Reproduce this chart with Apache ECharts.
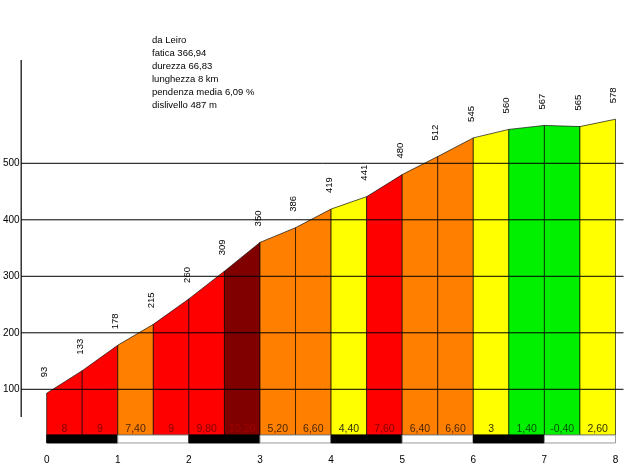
<!DOCTYPE html>
<html><head><meta charset="utf-8">
<script src="https://cdn.jsdelivr.net/npm/echarts@6/dist/echarts.min.js"></script>
<style>html,body{margin:0;padding:0;background:#fff}#c{width:640px;height:470px}</style>
</head><body><div id="c"></div>
<script>
// ---- data ----
const distances = [0, 0.5, 1, 1.5, 2, 2.5, 3, 3.5, 4, 4.5, 5, 5.5, 6, 6.5, 7, 7.5, 8];
const elevations = [93, 133, 178, 215, 260, 309, 360, 386, 419, 441, 480, 512, 545, 560, 567, 565, 578];
const elevationLabels = ['93', '133', '178', '215', '260', '309', '350', '386', '419', '441', '480', '512', '545', '560', '567', '565', '578'];
const gradientLabels = ['8', '9', '7,40', '9', '9,80', '10,20', '5,20', '6,60', '4,40', '7,60', '6,40', '6,60', '3', '1,40', '-0,40', '2,60'];
const gradientClasses = ['red', 'red', 'orange', 'red', 'red', 'darkred', 'orange', 'orange', 'yellow', 'red', 'orange', 'orange', 'yellow', 'green', 'green', 'yellow'];
const kmTicks = [0, 1, 2, 3, 4, 5, 6, 7, 8];
const elevationTicks = [100, 200, 300, 400, 500];
const infoLines = ['da Leiro', 'fatica 366,94', 'durezza 66,83', 'lunghezza 8 km', 'pendenza media 6,09 %', 'dislivello 487 m'];

// ---- styling ----
const FONT = 'Arial, "Liberation Sans", sans-serif';
const palette = {
  red: { fill: '#ff0000', text: '#800000' },
  darkred: { fill: '#800000', text: '#a00000' },
  orange: { fill: '#ff8000', text: '#4d2600' },
  yellow: { fill: '#ffff00', text: '#333300' },
  green: { fill: '#00f000', text: '#005000' }
};
const BASE = 19;        // bottom of the profile fill (elevation units)
const BAR_BOTTOM = 5;   // bottom of the km band
const GRAD_LABEL_Y = 29;
const AXIS_FROM = 51, AXIS_TO = 683;

const segData = [];
for (let i = 0; i < distances.length - 1; i++) {
  segData.push([distances[i], distances[i + 1], elevations[i], elevations[i + 1], i]);
}
const pointData = distances.map((d, i) => [d, elevations[i], i]);
const kmBandData = [];
for (let k = 0; k < kmTicks.length - 1; k++) kmBandData.push([kmTicks[k], kmTicks[k + 1], k]);

const chart = echarts.init(document.getElementById('c'), null, { renderer: 'canvas' });
chart.setOption({
  animation: false,
  backgroundColor: '#fff',
  title: {
    text: infoLines.join('\n'),
    left: 147, top: 29,
    textStyle: { fontSize: 9.5, fontWeight: 'normal', lineHeight: 12.9, color: '#000', fontFamily: FONT }
  },
  grid: { left: 44.5, right: 24.5, top: 50.3, bottom: 24.2 },
  xAxis: {
    type: 'value', min: 0, max: 8, interval: 1,
    axisLine: { show: false }, axisTick: { show: false }, splitLine: { show: false },
    axisLabel: { margin: 9, fontSize: 10, color: '#000', fontFamily: FONT }
  },
  yAxis: {
    type: 'value', min: 0, max: 700, interval: 100,
    axisLine: { show: false }, axisTick: { show: false }, splitLine: { show: false },
    axisLabel: {
      margin: 27, fontSize: 10, color: '#000', fontFamily: FONT,
      formatter: v => elevationTicks.indexOf(v) >= 0 ? String(v) : ''
    }
  },
  series: [
    {
      type: 'custom', z: 2, data: segData,
      renderItem: (params, api) => {
        const x0 = api.value(0), x1 = api.value(1), e0 = api.value(2), e1 = api.value(3), i = api.value(4);
        const pal = palette[gradientClasses[i]];
        const p0 = api.coord([x0, BASE]), p1 = api.coord([x0, e0]), p2 = api.coord([x1, e1]), p3 = api.coord([x1, BASE]);
        const ty = api.coord([0, GRAD_LABEL_Y])[1];
        return {
          type: 'group', children: [
            { type: 'polygon', shape: { points: [p0, p1, p2, p3] },
              style: { fill: pal.fill, stroke: 'rgba(0,0,0,0.65)', lineWidth: 1 } },
            { type: 'text', x: (p0[0] + p3[0]) / 2, y: ty,
              style: { text: gradientLabels[i], fill: pal.text, fontSize: 10.5, fontFamily: FONT, align: 'center', verticalAlign: 'middle' } }
          ]
        };
      }
    },
    {
      type: 'custom', z: 5, data: elevationTicks.map(v => [0, v]),
      renderItem: (params, api) => {
        const v = api.value(1);
        const a = api.coord([0, v]), b = api.coord([8, v]);
        return { type: 'line', shape: { x1: a[0] - 25.5, y1: a[1], x2: b[0] + 8, y2: b[1] },
          style: { stroke: '#000', lineWidth: 1 } };
      }
    },
    {
      type: 'custom', z: 5, data: [[0, AXIS_FROM, AXIS_TO]],
      renderItem: (params, api) => {
        const a = api.coord([0, api.value(1)]), b = api.coord([0, api.value(2)]);
        return { type: 'line', shape: { x1: a[0] - 25.5, y1: a[1], x2: b[0] - 25.5, y2: b[1] },
          style: { stroke: '#000', lineWidth: 1.2 } };
      }
    },
    {
      type: 'custom', z: 6, data: pointData,
      renderItem: (params, api) => {
        const i = api.value(2);
        const p = api.coord([api.value(0), api.value(1)]);
        return { type: 'text', x: p[0] - 2, y: p[1] - 16, rotation: Math.PI / 2,
          style: { text: elevationLabels[i], fill: '#000', fontSize: 9.5, fontFamily: FONT, align: 'left', verticalAlign: 'middle' } };
      }
    },
    {
      type: 'custom', z: 4, data: kmBandData,
      renderItem: (params, api) => {
        const k = api.value(2);
        const a = api.coord([api.value(0), BASE]), b = api.coord([api.value(1), BAR_BOTTOM]);
        const dark = k % 2 === 0;
        return { type: 'rect', shape: { x: a[0], y: a[1], width: b[0] - a[0], height: b[1] - a[1] },
          style: { fill: dark ? '#000' : '#fff', stroke: dark ? '#000' : '#999', lineWidth: 1 } };
      }
    }
  ]
});
</script></body></html>
